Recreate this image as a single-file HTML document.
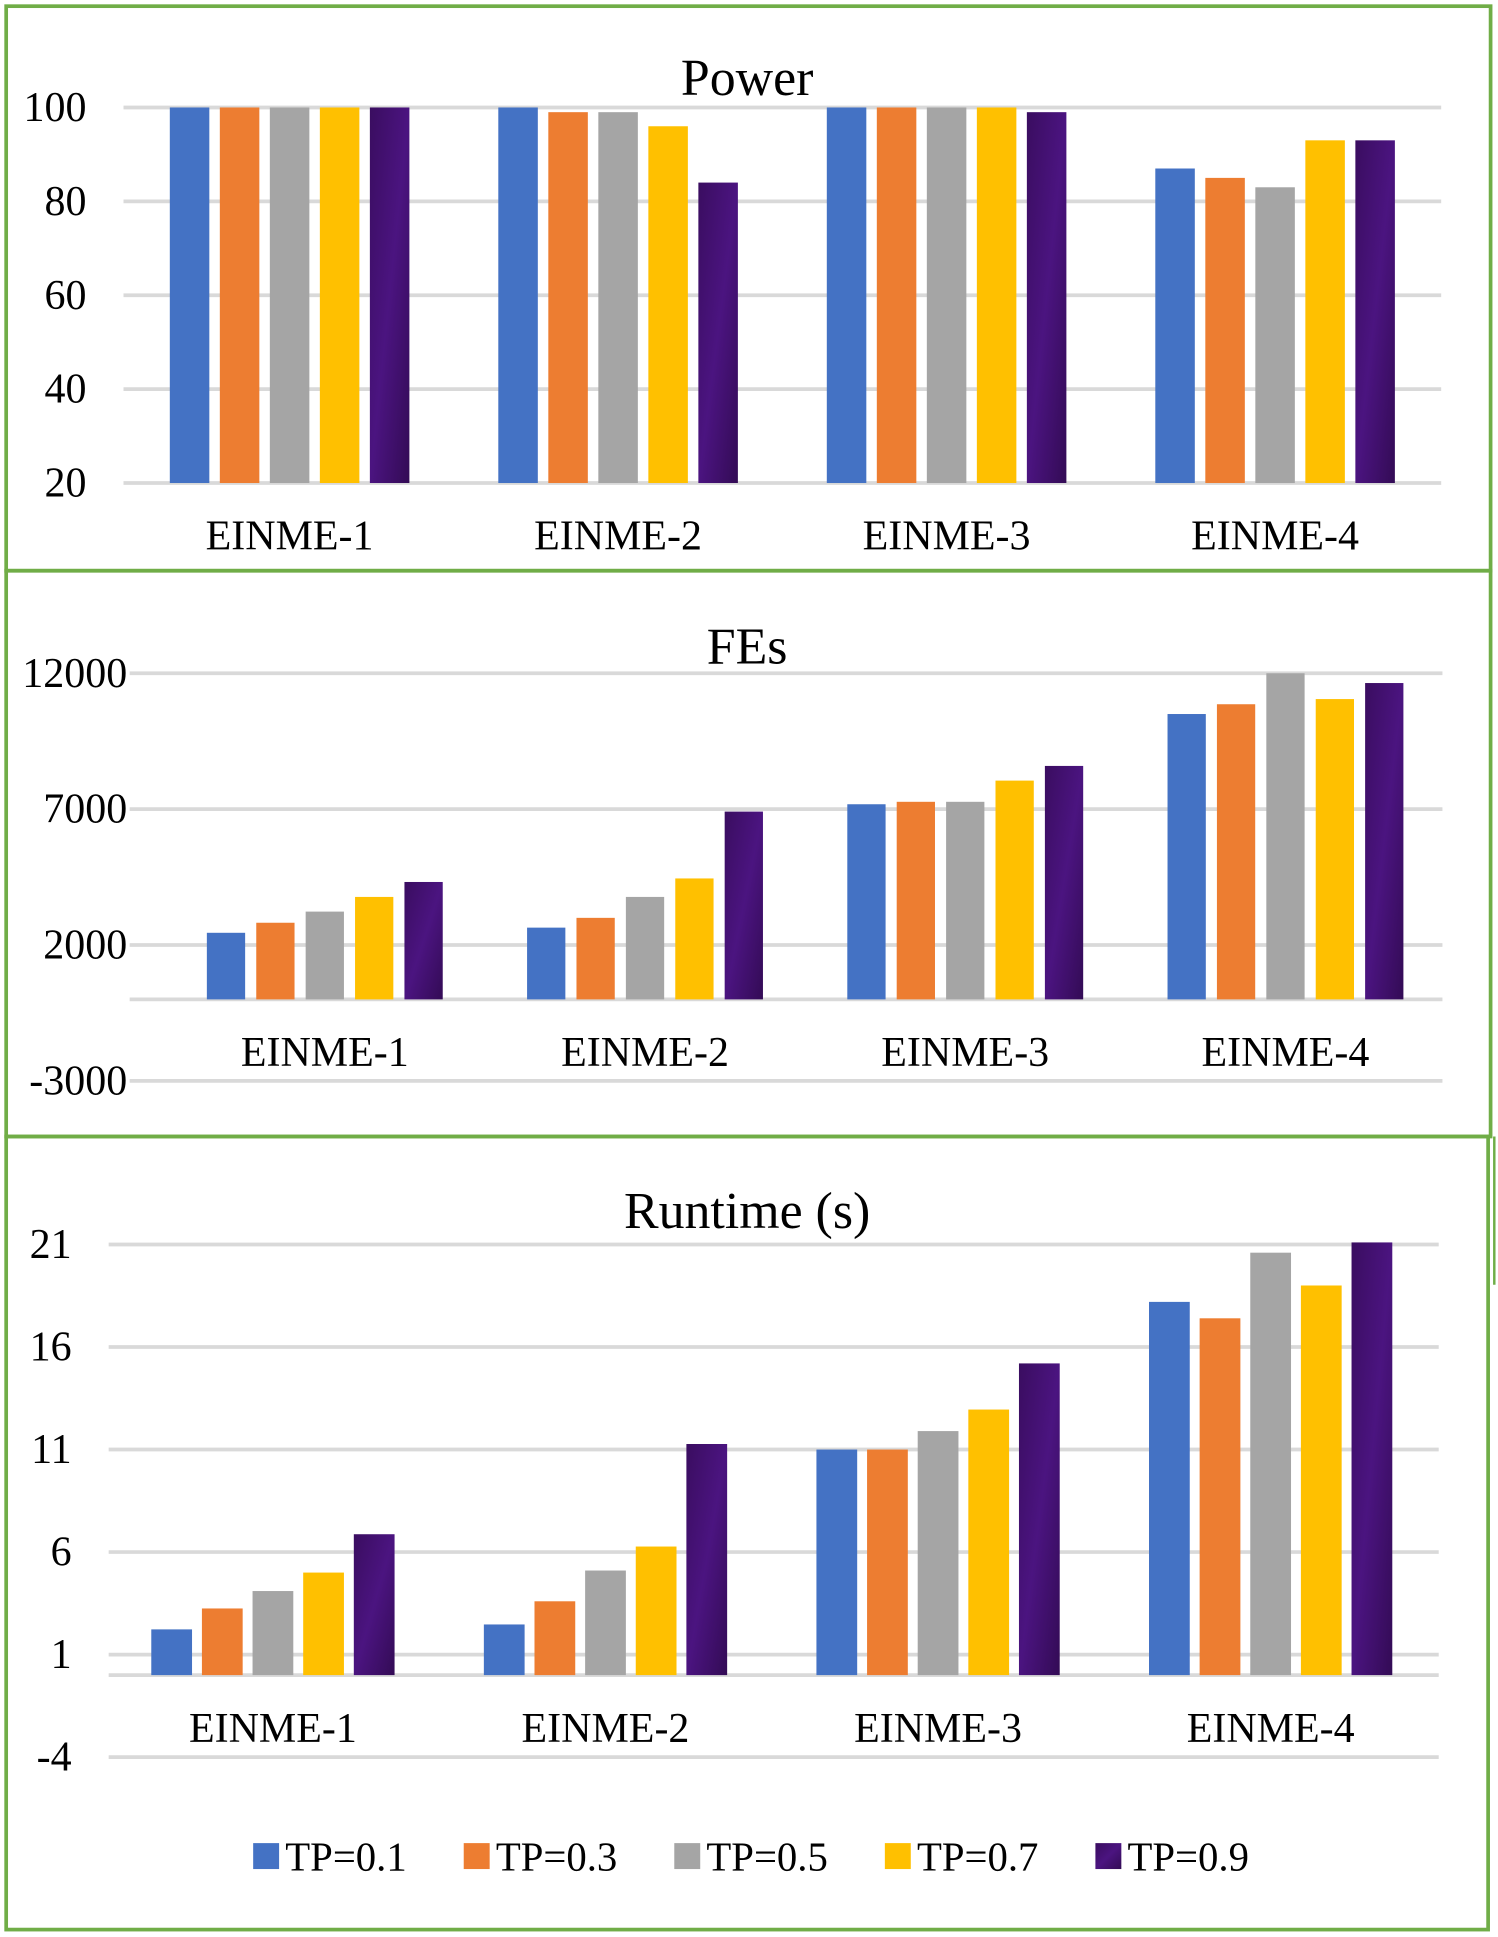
<!DOCTYPE html>
<html><head><meta charset="utf-8"><style>
html,body{margin:0;padding:0;background:#fff;}
svg{display:block;font-family:"Liberation Serif",serif;}
</style></head><body>
<svg id="root" width="1498" height="1937" viewBox="0 0 1213 1568" preserveAspectRatio="none" xmlns="http://www.w3.org/2000/svg">
<defs>
<linearGradient id="purp" x1="0" y1="0" x2="1" y2="1">
<stop offset="0" stop-color="#3a0d60"/><stop offset="0.5" stop-color="#4b1480"/><stop offset="1" stop-color="#330b55"/>
</linearGradient>
</defs>
<rect x="5" y="5" width="1202" height="457" fill="none" stroke="#70AD47" stroke-width="3"/>
<rect x="5" y="462" width="1202" height="458" fill="none" stroke="#70AD47" stroke-width="3"/>
<rect x="5" y="920" width="1200" height="642" fill="none" stroke="#70AD47" stroke-width="3"/>
<line x1="1210" y1="920" x2="1210" y2="1040" stroke="#70AD47" stroke-width="2"/>
<g id="charts"></g>
<g id="legend"></g>
</svg>
<script>
const categories = ["EINME-1","EINME-2","EINME-3","EINME-4"];
const seriesNames = ["TP=0.1","TP=0.3","TP=0.5","TP=0.7","TP=0.9"];
const colors = ["#4472C4","#ED7D31","#A5A5A5","#FFC000","url(#purp)"];

const powerTicks = [20,40,60,80,100];
const powerTP01 = [100,100,100,87];
const powerTP03 = [100,99,100,85];
const powerTP05 = [100,99,100,83];
const powerTP07 = [100,96,100,93];
const powerTP09 = [100,84,99,93];

const fesTicks = [-3000,2000,7000,12000];
const fesTP01 = [2450,2640,7180,10500];
const fesTP03 = [2820,3000,7270,10860];
const fesTP05 = [3230,3770,7270,12000];
const fesTP07 = [3770,4450,8050,11050];
const fesTP09 = [4320,6910,8590,11640];

const rtTicks = [-4,1,6,11,16,21];
const rtTP01 = [2.23,2.47,11.0,18.2];
const rtTP03 = [3.25,3.6,11.0,17.4];
const rtTP05 = [4.1,5.1,11.9,20.6];
const rtTP07 = [5.0,6.27,12.95,19.0];
const rtTP09 = [6.87,11.27,15.2,21.1];

const NS="http://www.w3.org/2000/svg";
function mk(tag,attrs,parent){const e=document.createElementNS(NS,tag);for(const k in attrs)e.setAttribute(k,attrs[k]);parent.appendChild(e);return e;}
const root=document.getElementById('charts');

function drawChart(cfg){
  const g=mk('g',{},root);
  
  
  const y=v=>cfg.y0-(v-cfg.v0)*cfg.pxPer;
  const t=mk('text',{x:605,y:cfg.titleY,'text-anchor':'middle','font-size':42,fill:'#000'},g);
  t.textContent=cfg.title;
  
  
  cfg.ticks.forEach(v=>{
    const l=mk('line',{x1:cfg.gx0,x2:cfg.gx1,y1:y(v),y2:y(v),stroke:'#D9D9D9','stroke-width':3},g);
    
    
    const tl=mk('text',{x:cfg.tickX,y:y(v)+11,'text-anchor':'end','font-size':34,fill:'#000'},g);
    tl.textContent=String(v);
    
    
  });
  if(cfg.axisZero!==undefined){
    const a=mk('line',{x1:cfg.gx0,x2:cfg.gx1,y1:y(cfg.axisZero),y2:y(cfg.axisZero),stroke:'#D9D9D9','stroke-width':3},g);
    
    
  }
  const base=cfg.baseV;
  cfg.series.forEach((arr,si)=>{
    arr.forEach((v,ci)=>{
      const cx=cfg.c0+ci*cfg.cStep;
      const x=cx+(si-2)*cfg.bStep-cfg.bw/2;
      const top=y(v), bot=y(base);
      const r=mk('rect',{x:x,y:Math.min(top,bot),width:cfg.bw,height:Math.abs(bot-top),fill:colors[si]},g);
      
      
    });
  });
  categories.forEach((c,ci)=>{
    const tl=mk('text',{x:cfg.c0+ci*cfg.cStep,y:cfg.catY,'text-anchor':'middle','font-size':34,fill:'#000'},g);
    tl.textContent=c;
    
    
  });
}

drawChart({name:'power',title:'Power',titleY:77,ticks:powerTicks,v0:20,y0:391,pxPer:76/20,gx0:100,gx1:1167,tickX:70,
  series:[powerTP01,powerTP03,powerTP05,powerTP07,powerTP09],baseV:20,c0:234.5,cStep:266,bStep:40.5,bw:32,catY:445});
drawChart({name:'fes',title:'FEs',titleY:537,ticks:fesTicks,v0:0,y0:809,pxPer:110/5000,gx0:105,gx1:1168,tickX:103,axisZero:0,
  series:[fesTP01,fesTP03,fesTP05,fesTP07,fesTP09],baseV:0,c0:263,cStep:259.3,bStep:40,bw:31,catY:863});
drawChart({name:'runtime',title:'Runtime (s)',titleY:994,ticks:rtTicks,v0:0,y0:1356,pxPer:83/5,gx0:88,gx1:1165,tickX:58,axisZero:0,
  series:[rtTP01,rtTP03,rtTP05,rtTP07,rtTP09],baseV:0,c0:221,cStep:269.3,bStep:41,bw:33,catY:1410});

const lg=document.getElementById('legend');
seriesNames.forEach((n,i)=>{
  const x0=205+i*170.5;
  const s=mk('rect',{x:x0,y:1492,width:21,height:21,fill:colors[i]},lg);
  
  
  const t=mk('text',{x:x0+26,y:1514,'font-size':33,fill:'#000'},lg);
  t.textContent=n;
  
  
});
</script>
</body></html>
